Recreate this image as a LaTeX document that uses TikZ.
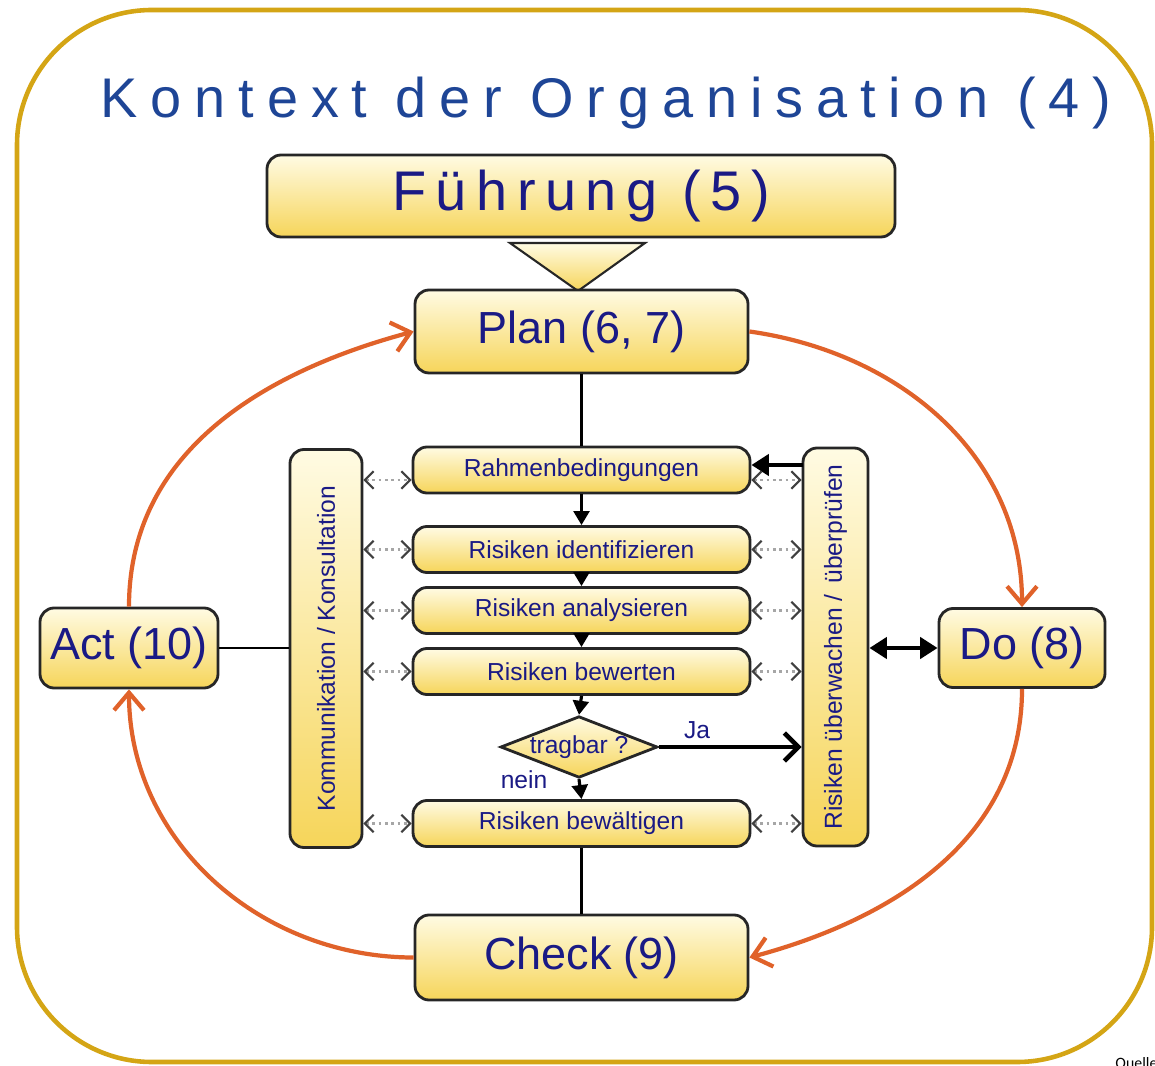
\documentclass[tikz,border=0pt]{standalone}
\usepackage{fontspec}
\setmainfont{Liberation Sans}
\newfontfamily\titlefont[LetterSpace=23]{Liberation Sans}
\newfontfamily\leadfont[LetterSpace=17]{Liberation Sans}
\newfontfamily\notefont{Carlito}
\usetikzlibrary{arrows.meta, shapes.geometric}
\definecolor{framegold}{HTML}{D4A515}
\definecolor{cycleorange}{HTML}{E0622A}
\definecolor{titleblue}{HTML}{1E4596}
\definecolor{textnavy}{HTML}{1A1A85}
\definecolor{boxtop}{HTML}{FFFBE3}
\definecolor{boxbottom}{HTML}{F6D55A}

\begin{document}
\begin{tikzpicture}[
    box/.style={draw=black!85, line width=0.8pt, rounded corners=4pt, top color=boxtop, bottom color=boxbottom, text=textnavy, inner sep=0pt},
    bigbox/.style={box, font=\fontsize{12.8}{14}\selectfont},
    smallbox/.style={box, minimum width=3.37cm, minimum height=0.46cm, font=\fontsize{7}{8}\selectfont},
    sidebox/.style={box, rotate=90, minimum width=3.98cm, font=\fontsize{7}{8}\selectfont},
    smalltext/.style={text=textnavy, font=\fontsize{7}{8}\selectfont},
    cyclearrow/.style={draw=cycleorange, line width=1.2pt, -{Straight Barb[length=5pt,width=8.5pt]}},
    flowarrow/.style={line width=0.9pt, -{Triangle[length=4pt,width=4.5pt]}},
    boldarrow/.style={line width=1.4pt, -{Triangle[length=5pt,width=6pt]}},
    talkarrow/.style={gray!70, line width=0.8pt, densely dotted, {Straight Barb[length=2.5pt,width=5pt,color=black!75,line width=0.6pt]}-{Straight Barb[length=2.5pt,width=5pt,color=black!75,line width=0.6pt]}}
]
    \useasboundingbox (0,0) rectangle (11.55,10.65);
    \draw[framegold, line width=1.3pt, rounded corners=1.35cm] (0.17,0.03) rectangle (11.52,10.55);
    \node[text=titleblue, font=\titlefont\fontsize{15.9}{18}\selectfont, anchor=base] (kontext) at (6.06,9.47) {Kontext der Organisation (4)};

    \node[box, minimum width=6.28cm, minimum height=0.82cm, font=\leadfont\fontsize{15.9}{18}\selectfont] (fuehrung) at (5.81,8.69) {Führung (5)};
    \draw[black!85, line width=0.6pt, top color=boxtop, bottom color=boxbottom] (5.10,8.22) -- (6.45,8.22) -- (5.78,7.74) -- cycle;

    \node[bigbox, minimum width=3.33cm, minimum height=0.83cm] (plan) at (5.815,7.335) {Plan (6, 7)};
    \node[bigbox, minimum width=1.78cm, minimum height=0.80cm] (act) at (1.29,4.17) {Act (10)};
    \node[bigbox, minimum width=1.66cm, minimum height=0.79cm] (do) at (10.22,4.17) {Do (8)};
    \node[bigbox, minimum width=3.33cm, minimum height=0.85cm] (check) at (5.815,1.075) {Check (9)};

    \node[smallbox] (rahmen) at (5.815,5.95) {Rahmenbedingungen};
    \node[smallbox] (identify) at (5.815,5.155) {Risiken identifizieren};
    \node[smallbox] (analyse) at (5.815,4.545) {Risiken analysieren};
    \node[smallbox] (evaluate) at (5.815,3.935) {Risiken bewerten};
    \node[box, diamond, aspect=2.55, rounded corners=0pt, font=\fontsize{7}{8}\selectfont] (tragbar) at (5.79,3.18) {tragbar ?};
    \node[smallbox] (treat) at (5.815,2.415) {Risiken bewältigen};

    \node[sidebox, minimum height=0.72cm] (komm) at (3.26,4.165) {Kommunikation / Konsultation};
    \node[sidebox, minimum height=0.65cm] (monitor) at (8.355,4.18) {Risiken überwachen / \,überprüfen};

    \node[smalltext] (ja) at (6.97,3.35) {Ja};
    \node[smalltext] (nein) at (5.24,2.85) {nein};
    \node[font=\notefont\fontsize{4.5}{5}\selectfont, anchor=base west] (quelle) at (11.03,-0.03) {Quelle};

    \draw[line width=0.7pt] (plan) -- (rahmen);
    \draw[line width=0.7pt] (treat) -- (check);
    \draw[line width=0.7pt] (act.east) -- (act.east -| komm.north);
    \foreach \a/\b in {rahmen/identify, identify/analyse, analyse/evaluate, evaluate/tragbar, tragbar/treat}
        \draw[flowarrow] (\a.south) -- (\b.north);

    \coordinate (rahmenin) at (8.03,6.00);
    \coordinate (rahmenl) at ([yshift=-0.1cm]rahmen.west);
    \coordinate (rahmenr) at ([yshift=-0.1cm]rahmen.east);
    \draw[boldarrow] (rahmenin) -- (rahmenin -| rahmen.east);
    \draw[talkarrow] (rahmenl -| komm.south) -- (rahmenl);
    \draw[talkarrow] (rahmenr) -- (rahmenr -| monitor.north);
    \foreach \s in {identify, analyse, evaluate, treat} {
        \draw[talkarrow] (\s.west -| komm.south) -- (\s.west);
        \draw[talkarrow] (\s.east) -- (\s.east -| monitor.north);
    }
    \draw[line width=1.3pt, -{Straight Barb[length=4pt,width=8pt]}] (tragbar.east) -- (tragbar.east -| monitor.north);
    \draw[boldarrow, {Triangle[length=5pt,width=6pt]}-{Triangle[length=5pt,width=6pt]}] (do.west -| monitor.south) -- (do.west);

    \draw[cyclearrow] (act.north) to[out=90, in=195] (plan.west);
    \draw[cyclearrow] (plan.east) to[out=-8, in=90] (do.north);
    \draw[cyclearrow] (do.south) to[out=-90, in=15] (check.east);
    \draw[cyclearrow] (check.west) to[out=180, in=-90] (act.south);
\end{tikzpicture}
\end{document}
